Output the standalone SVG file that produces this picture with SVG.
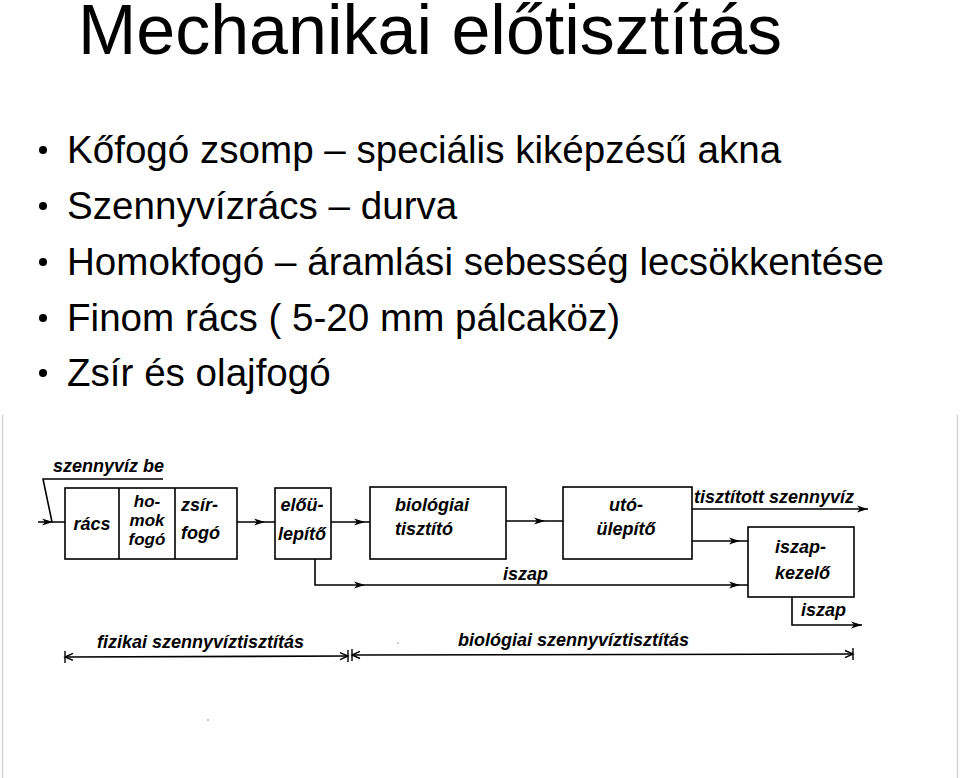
<svg xmlns="http://www.w3.org/2000/svg" width="960" height="778" viewBox="0 0 960 778">
<style>
.title{font-family:"Liberation Sans",Arial,sans-serif;font-size:70px;fill:#000}
.bul{font-family:"Liberation Sans",Arial,sans-serif;font-size:38.6px;fill:#000}
.lbl{font-family:"Liberation Sans",Arial,sans-serif;font-size:18px;font-weight:bold;font-style:italic;fill:#000}
.sm{font-size:17px}
.box{fill:#fff;stroke:#000;stroke-width:1.6}
.ln{fill:none;stroke:#000;stroke-width:1.6}
.frame{stroke:#d4d4d4;stroke-width:1.5}
</style>
<defs>
<marker id="ah" markerUnits="userSpaceOnUse" markerWidth="14" markerHeight="10" refX="12" refY="5" orient="auto" viewBox="0 0 14 10">
<path d="M12,5 L1,1.5 L4,5 L1,8.5 Z" fill="#000"/>
</marker>
<marker id="dimEnd" markerUnits="userSpaceOnUse" markerWidth="12" markerHeight="16" refX="10" refY="8" orient="auto" viewBox="0 0 12 16">
<path d="M2,4.5 L10,8 L2,11.5 M10,2 V14" fill="none" stroke="#000" stroke-width="1.4"/>
</marker>
<marker id="dimStart" markerUnits="userSpaceOnUse" markerWidth="12" markerHeight="16" refX="2" refY="8" orient="auto" viewBox="0 0 12 16">
<path d="M10,4.5 L2,8 L10,11.5 M2,2 V14" fill="none" stroke="#000" stroke-width="1.4"/>
</marker>
</defs>
<rect width="960" height="778" fill="#fff"/>
<text class="title" x="430" y="54" text-anchor="middle">Mechanikai előtisztítás</text>
<g id="bullets">
<circle cx="43" cy="150" r="4"/>
<text class="bul" x="67" y="163">Kőfogó zsomp – speciális kiképzésű akna</text>
<circle cx="43" cy="206" r="4"/>
<text class="bul" x="67" y="219">Szennyvízrács – durva</text>
<circle cx="43" cy="262" r="4"/>
<text class="bul" x="67" y="275">Homokfogó – áramlási sebesség lecsökkentése</text>
<circle cx="43" cy="318" r="4"/>
<text class="bul" x="67" y="331">Finom rács ( 5-20 mm pálcaköz)</text>
<circle cx="43" cy="373" r="4"/>
<text class="bul" x="67" y="386">Zsír és olajfogó</text>
</g>
<line class="frame" x1="2.5" y1="415" x2="2.5" y2="778"/>
<line class="frame" x1="957.5" y1="415" x2="957.5" y2="778"/>
<circle cx="398" cy="643" r="0.8" fill="#888"/>
<circle cx="208" cy="720" r="0.8" fill="#888"/>
<g id="connectors">
<path class="ln" d="M163,479 H43 L52,522"/>
<path class="ln" d="M53,522 H65 M38,522 H53" marker-end="url(#ah)"/>
<path class="ln" d="M265,522 H275 M237,522 H265" marker-end="url(#ah)"/>
<path class="ln" d="M365,522 H370 M331,522 H365" marker-end="url(#ah)"/>
<path class="ln" d="M545,521 H563 M506,521 H545" marker-end="url(#ah)"/>
<path class="ln" d="M692,509 H868" marker-end="url(#ah)"/>
<path class="ln" d="M740,541 H748 M692,541 H740" marker-end="url(#ah)"/>
<path class="ln" d="M315,559 V585 H365" marker-end="url(#ah)"/>
<path class="ln" d="M740,585 H748 M365,585 H740" marker-end="url(#ah)"/>
<path class="ln" d="M792,597 V625 H862" marker-end="url(#ah)"/>
<path class="ln" d="M65,657 L348,656" marker-start="url(#dimStart)" marker-end="url(#dimEnd)"/>
<path class="ln" d="M352,655 L853,654" marker-start="url(#dimStart)" marker-end="url(#dimEnd)"/>
</g>
<g id="node-input"><text class="lbl" x="53" y="472">szennyvíz be</text></g>
<g id="node-mech">
<rect class="box" x="65" y="488" width="172" height="71"/>
<line class="ln" x1="119" y1="488" x2="119" y2="559"/>
<line class="ln" x1="175" y1="488" x2="175" y2="559"/>
<text class="lbl" x="92" y="530" text-anchor="middle">rács</text>
<text class="lbl sm" x="147" y="507" text-anchor="middle">ho-</text>
<text class="lbl sm" x="147" y="526" text-anchor="middle">mok</text>
<text class="lbl sm" x="147" y="545" text-anchor="middle">fogó</text>
<text class="lbl" x="181" y="511">zsír-</text>
<text class="lbl" x="181" y="539">fogó</text>
</g>
<g id="node-eloulepito">
<rect class="box" x="275" y="488" width="56" height="71"/>
<text class="lbl" x="302" y="511" text-anchor="middle">előü-</text>
<text class="lbl" x="302" y="540" text-anchor="middle">lepítő</text>
</g>
<g id="node-bio">
<rect class="box" x="370" y="487" width="136" height="72"/>
<text class="lbl" x="395" y="511">biológiai</text>
<text class="lbl" x="395" y="535">tisztító</text>
</g>
<g id="node-utoulepito">
<rect class="box" x="563" y="487" width="129" height="72"/>
<text class="lbl" x="626" y="511" text-anchor="middle">utó-</text>
<text class="lbl" x="626" y="535" text-anchor="middle">ülepítő</text>
</g>
<g id="node-iszapkezelo">
<rect class="box" x="748" y="527" width="106" height="70"/>
<text class="lbl" x="775" y="553">iszap-</text>
<text class="lbl" x="775" y="579">kezelő</text>
</g>
<g id="labels">
<text class="lbl" x="694" y="503">tisztított szennyvíz</text>
<text class="lbl" x="503" y="580">iszap</text>
<text class="lbl" x="801" y="616">iszap</text>
<text class="lbl" x="97" y="648">fizikai szennyvíztisztítás</text>
<text class="lbl" x="458" y="646">biológiai szennyvíztisztítás</text>
</g>
</svg>
